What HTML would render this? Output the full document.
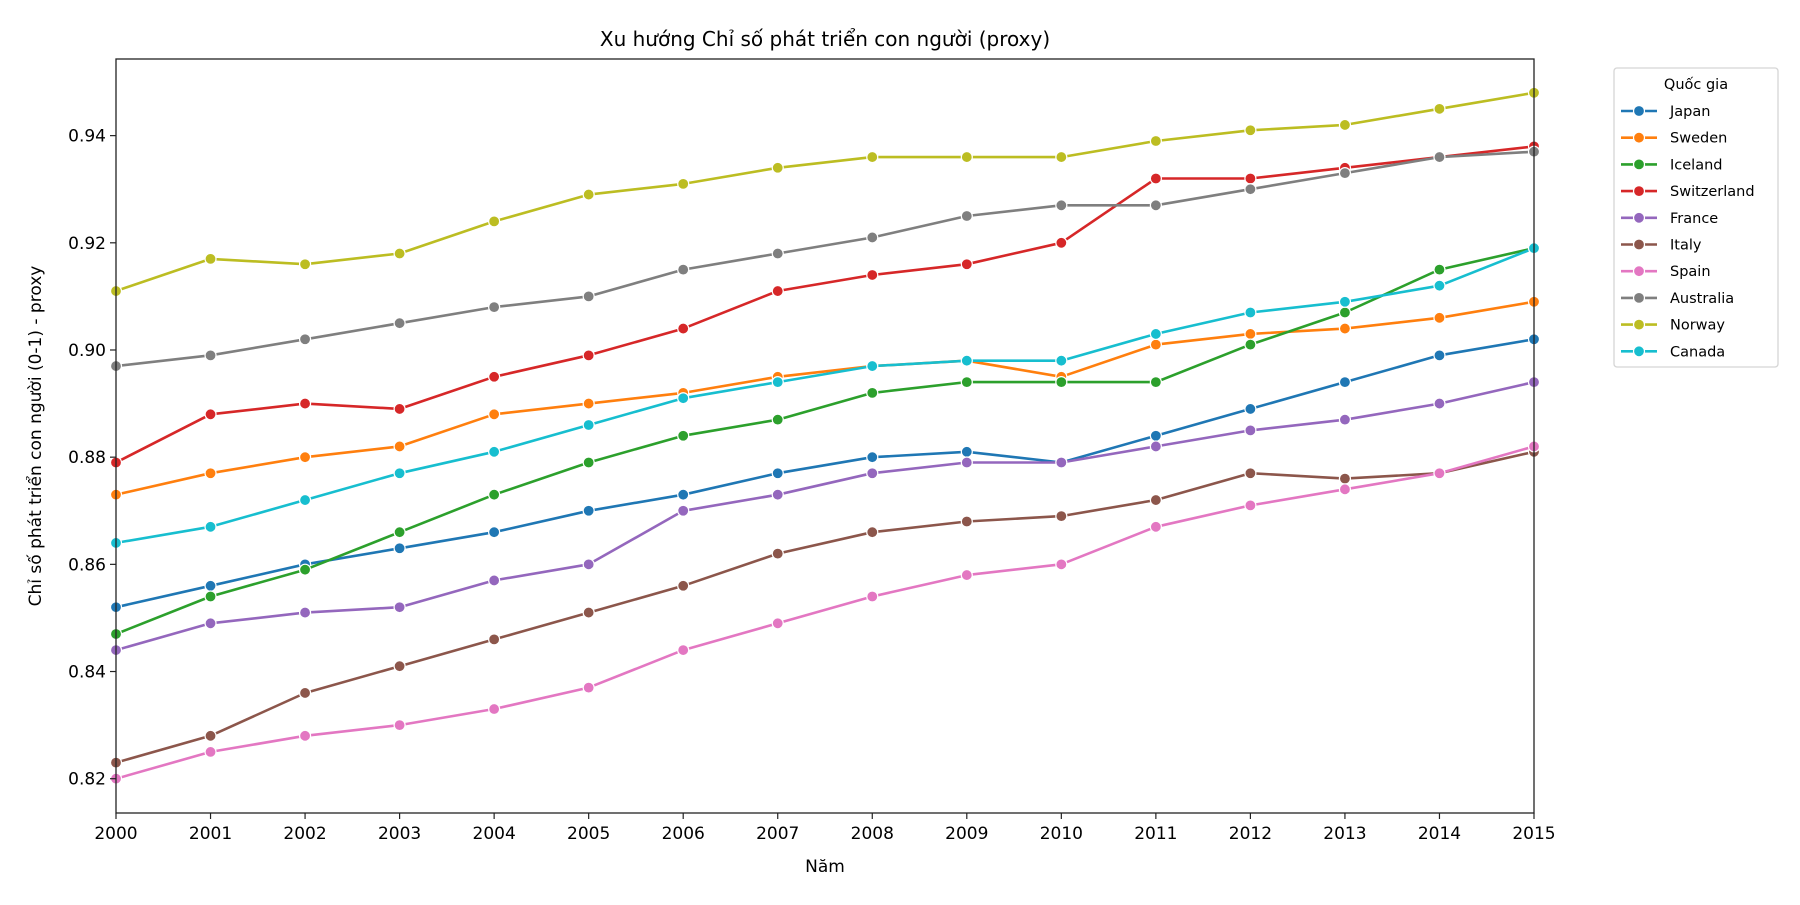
<!DOCTYPE html>
<html><head><meta charset="utf-8"><style>
body{margin:0;background:#fff;}
svg text{font-family:"DejaVu Sans","Liberation Sans",sans-serif;fill:#000;}
</style></head><body>
<svg id="chart" width="1800" height="900" xmlns="http://www.w3.org/2000/svg">
<rect width="1800" height="900" fill="#fff"/>
<g id="plot"></g>
</svg>
<script>
const years=[2000,2001,2002,2003,2004,2005,2006,2007,2008,2009,2010,2011,2012,2013,2014,2015];
const yTicks=[0.82,0.84,0.86,0.88,0.90,0.92,0.94];
const countries=["Japan","Sweden","Iceland","Switzerland","France","Italy","Spain","Australia","Norway","Canada"];
const colors=["#1f77b4","#ff7f0e","#2ca02c","#d62728","#9467bd","#8c564b","#e377c2","#7f7f7f","#bcbd22","#17becf"];
const japan=[.852,.856,.860,.863,.866,.870,.873,.877,.880,.881,.879,.884,.889,.894,.899,.902];
const sweden=[.873,.877,.880,.882,.888,.890,.892,.895,.897,.898,.895,.901,.903,.904,.906,.909];
const iceland=[.847,.854,.859,.866,.873,.879,.884,.887,.892,.894,.894,.894,.901,.907,.915,.919];
const switzerland=[.879,.888,.890,.889,.895,.899,.904,.911,.914,.916,.920,.932,.932,.934,.936,.938];
const france=[.844,.849,.851,.852,.857,.860,.870,.873,.877,.879,.879,.882,.885,.887,.890,.894];
const italy=[.823,.828,.836,.841,.846,.851,.856,.862,.866,.868,.869,.872,.877,.876,.877,.881];
const spain=[.820,.825,.828,.830,.833,.837,.844,.849,.854,.858,.860,.867,.871,.874,.877,.882];
const australia=[.897,.899,.902,.905,.908,.910,.915,.918,.921,.925,.927,.927,.930,.933,.936,.937];
const norway=[.911,.917,.916,.918,.924,.929,.931,.934,.936,.936,.936,.939,.941,.942,.945,.948];
const canada=[.864,.867,.872,.877,.881,.886,.891,.894,.897,.898,.898,.903,.907,.909,.912,.919];
const series=[japan,sweden,iceland,switzerland,france,italy,spain,australia,norway,canada];

const NS="http://www.w3.org/2000/svg";
const L=116,R=1534,T=59,B=813;
const yMin=0.8136,yMax=0.9543;
const xs=y=>L+(y-years[0])/(years[years.length-1]-years[0])*(R-L);
const ys=v=>B-(v-yMin)/(yMax-yMin)*(B-T);
const g=document.getElementById('plot');
function mk(tag,attrs,parent){const e=document.createElementNS(NS,tag);for(const k in attrs)e.setAttribute(k,attrs[k]);(parent||g).appendChild(e);return e;}

series.forEach((s,i)=>{
  const grp=mk('g',{});
  
  
  const pts=s.map((v,j)=>xs(years[j]).toFixed(1)+','+ys(v).toFixed(1)).join(' ');
  const pl=mk('polyline',{points:pts,fill:'none',stroke:colors[i],'stroke-width':2.6,'stroke-linejoin':'round'},grp);
  
  
  s.forEach((v,j)=>{
    const c=mk('circle',{cx:xs(years[j]),cy:ys(v),r:5.5,fill:colors[i],stroke:'#fff','stroke-width':1.2},grp);
    
    
  });
});

const fr=mk('rect',{x:L,y:T,width:R-L,height:B-T,fill:'none',stroke:'#222','stroke-width':1.3});



years.forEach(y=>{
  mk('line',{x1:xs(y),x2:xs(y),y1:B,y2:B+6,stroke:'#222','stroke-width':1.2});
  const t=mk('text',{x:xs(y),y:B+26,'text-anchor':'middle','font-size':17});
  t.textContent=y;
  
  
});
yTicks.forEach(v=>{
  mk('line',{x1:L-6,x2:L,y1:ys(v),y2:ys(v),stroke:'#222','stroke-width':1.2});
  const t=mk('text',{x:L-10,y:ys(v)+6,'text-anchor':'end','font-size':17});
  t.textContent=v.toFixed(2);
  
  
});

const title=mk('text',{x:(L+R)/2,y:46,'text-anchor':'middle','font-size':20});
title.textContent='Xu hướng Chỉ số phát triển con người (proxy)';


const xt=mk('text',{x:(L+R)/2,y:872,'text-anchor':'middle','font-size':17});
xt.textContent='Năm';


const yt=mk('text',{x:0,y:0,'text-anchor':'middle','font-size':17,transform:'translate(41,'+((T+B)/2)+') rotate(-90)'});
yt.textContent='Chỉ số phát triển con người (0-1) - proxy';



const lg=mk('g',{});


mk('rect',{x:1614,y:68,width:164,height:299,rx:3,fill:'#fff',stroke:'#d5d5d5','stroke-width':1.3},lg);
const lt=mk('text',{x:1696,y:89,'text-anchor':'middle','font-size':14.5},lg);
lt.textContent='Quốc gia';


countries.forEach((c,i)=>{
  const y=111+i*26.7;
  const e=mk('g',{},lg);
  
  
  mk('line',{x1:1621,x2:1657,y1:y,y2:y,stroke:colors[i],'stroke-width':2.6},e);
  mk('circle',{cx:1639,cy:y,r:5.5,fill:colors[i],stroke:'#fff','stroke-width':1.2},e);
  const t=mk('text',{x:1670,y:y+5,'font-size':14.5},e);
  t.textContent=c;
});
</script>
</body></html>
